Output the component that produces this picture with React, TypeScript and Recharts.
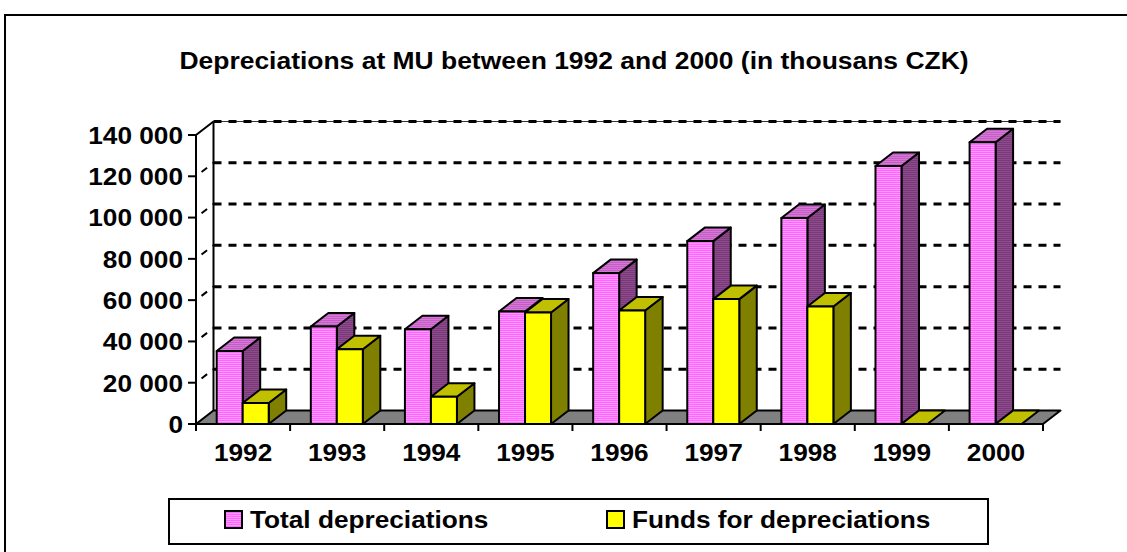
import React from 'react'
import { BarChart, Bar, XAxis, YAxis, CartesianGrid, Legend } from 'recharts'

const years = ['1992', '1993', '1994', '1995', '1996', '1997', '1998', '1999', '2000']
const totalDepreciations = [35400, 47200, 45900, 54500, 73100, 88600, 99800, 125000, 136500]
const fundsForDepreciations = [10200, 36200, 13200, 54000, 55000, 60500, 56900, 0, 0]
const yTicks = [0, 20000, 40000, 60000, 80000, 100000, 120000, 140000]
const seriesNames = ['Total depreciations', 'Funds for depreciations']

const data = years.map((year, i) => ({
  year,
  total: totalDepreciations[i],
  funds: fundsForDepreciations[i],
}))

// depth of the fake 3D view
const DX = 17.5
const DY = 13.5
const FONT = '"Liberation Sans", Arial, Helvetica, sans-serif'
const STRETCH = 1.07

const fmt = (v: number) => String(v).replace(/\B(?=(\d{3})+(?!\d))/g, ' ')

function Prism(props: any) {
  const { x, y, width, height, front, top, side } = props
  const r = x + width
  const b = y + height
  return (
    <g stroke="#000" strokeWidth={2} strokeLinejoin="round">
      {height > 0 && (
        <polygon points={`${r},${y} ${r + DX},${y - DY} ${r + DX},${b - DY} ${r},${b}`} fill={side} />
      )}
      <polygon points={`${x},${y} ${x + DX},${y - DY} ${r + DX},${y - DY} ${r},${y}`} fill={top} />
      {height > 0 && <rect x={x} y={y} width={width} height={height} fill={front} />}
    </g>
  )
}

function gridLine(props: any) {
  const { x1, x2, y1, index } = props
  const isBottom =
    props.y != null && props.height != null ? Math.abs(y1 - (props.y + props.height)) < 1 : index === 0
  const isTop = props.y != null ? Math.abs(y1 - props.y) < 1 : index === yTicks.length - 1
  if (isBottom) {
    return (
      <g key={`h-${index}`}>
        <polygon
          points={`${x1},${y1} ${x2},${y1} ${x2 + DX},${y1 - DY} ${x1 + DX},${y1 - DY}`}
          fill="#808080"
          stroke="#000"
          strokeWidth={2}
          strokeLinejoin="round"
        />
      </g>
    )
  }
  return (
    <g key={`h-${index}`}>
      {isTop && (
        <>
          <line x1={x1} y1={y1} x2={x1 + DX} y2={y1 - DY} stroke="#000" strokeWidth={2} />
          <line x1={x1 + DX} y1={y1 - DY} x2={x1 + DX} y2={props.y + props.height - DY} stroke="#000" strokeWidth={2} />
          <line x1={x1 + DX} y1={y1 - DY} x2={x2 + DX} y2={y1 - DY} stroke="#333" strokeWidth={1} />
        </>
      )}
      {!isTop && (
        <line
          x1={x1}
          y1={y1}
          x2={x1 + DX}
          y2={y1 - DY}
          stroke="#000"
          strokeWidth={2}
          strokeDasharray="7 7"
          strokeDashoffset={7}
        />
      )}
      <line
        x1={x1 + DX}
        y1={y1 - DY}
        x2={x2 + DX}
        y2={y1 - DY}
        stroke="#000"
        strokeWidth={3}
        strokeDasharray="8 7"
      />
    </g>
  )
}

function ValueTick(props: any) {
  const { x, y, payload } = props
  return (
    <text
      transform={`translate(${x},${y}) scale(${STRETCH},1)`}
      textAnchor="end"
      dy="0.36em"
      fontFamily={FONT}
      fontWeight="bold"
      fontSize={24.5}
      fill="#000"
    >
      {fmt(payload.value)}
    </text>
  )
}

function YearTick(props: any) {
  const { x, y, payload, index, visibleTicksCount } = props
  const count = visibleTicksCount || years.length
  const band = (props.width || 847) / count
  return (
    <g>
      <line x1={x - band / 2} y1={y - 7} x2={x - band / 2} y2={y} stroke="#000" strokeWidth={2} />
      {index === count - 1 && (
        <line x1={x + band / 2} y1={y - 7} x2={x + band / 2} y2={y} stroke="#000" strokeWidth={2} />
      )}
      <text
        transform={`translate(${x},${y + 29.5}) scale(${STRETCH},1)`}
        textAnchor="middle"
        fontFamily={FONT}
        fontWeight="bold"
        fontSize={24.5}
        fill="#000"
      >
        {payload.value}
      </text>
    </g>
  )
}

const swatchFills = ['url(#pinkFront)', '#FFFF00']
const swatchX = [57, 439]

function LegendBox(props: any) {
  const payload = props.payload || []
  // keep the series order, not the alphabetical one
  const items = seriesNames.map((name) => payload.find((e: any) => e.value === name)).filter(Boolean)
  return (
    <svg width={821} height={47} style={{ display: 'block' }}>
      <rect x={1} y={1} width={819} height={45} fill="#fff" stroke="#000" strokeWidth={2} />
      {items.map((entry: any, i: number) => (
        <g key={entry.value}>
          <rect x={swatchX[i]} y={13} width={17} height={17} fill={swatchFills[i]} stroke="#000" strokeWidth={2} />
          <text
            transform={`translate(${swatchX[i] + 25},30.3) scale(${STRETCH},1)`}
            fontFamily={FONT}
            fontWeight="bold"
            fontSize={24.5}
            fill="#000"
          >
            {entry.value}
          </text>
        </g>
      ))}
    </svg>
  )
}

export default function App() {
  return (
    <div style={{ position: 'absolute', left: 0, top: 0, width: 1127, height: 552, overflow: 'hidden', background: '#fff' }}>
      <svg width={1127} height={552} style={{ position: 'absolute', left: 0, top: 0 }}>
        <defs>
          <pattern id="pinkFront" width={4} height={2} patternUnits="userSpaceOnUse">
            <rect width={4} height={2} fill="#FF66FF" />
            <rect y={1} width={4} height={1} fill="#FF99FF" />
          </pattern>
          <pattern id="pinkSide" width={4} height={2} patternUnits="userSpaceOnUse">
            <rect width={4} height={2} fill="#7A3A7A" />
            <rect y={1} width={4} height={1} fill="#8C4C8C" />
          </pattern>
          <pattern id="pinkTop" width={4} height={2} patternUnits="userSpaceOnUse">
            <rect width={4} height={2} fill="#C65CC6" />
            <rect y={1} width={4} height={1} fill="#D47AD4" />
          </pattern>
        </defs>
        <path d="M5,552 L5,15 L1127,15" fill="none" stroke="#000" strokeWidth={2} />
        <text
          transform="translate(574,69) scale(1.08,1)"
          textAnchor="middle"
          fontFamily={FONT}
          fontWeight="bold"
          fontSize={24.5}
          fill="#000"
        >
          Depreciations at MU between 1992 and 2000 (in thousans CZK)
        </text>
      </svg>
      <div style={{ position: 'absolute', left: 0, top: 0 }}>
        <BarChart
          width={1127}
          height={552}
          data={data}
          margin={{ top: 135, right: 84, left: 0, bottom: 21 }}
          barCategoryGap="22%"
          barGap={0}
        >
          <CartesianGrid vertical={false} horizontal={gridLine} />
          <XAxis
            dataKey="year"
            height={60}
            axisLine={{ stroke: '#000', strokeWidth: 2 }}
            tickLine={false}
            tickSize={7}
            tickMargin={0}
            interval={0}
            tick={<YearTick />}
          />
          <YAxis
            width={196}
            domain={[0, 140000]}
            ticks={yTicks}
            interval={0}
            axisLine={{ stroke: '#000', strokeWidth: 2 }}
            tickLine={{ stroke: '#000', strokeWidth: 2 }}
            tickSize={8}
            tickMargin={5}
            tick={<ValueTick />}
          />
          <Legend
            verticalAlign="bottom"
            wrapperStyle={{ position: 'absolute', left: 168, top: 498, width: 821, height: 47 }}
            content={<LegendBox />}
          />
          <Bar
            dataKey="total"
            name={seriesNames[0]}
            fill="#FF66FF"
            isAnimationActive={false}
            shape={(p: any) => <Prism {...p} front="url(#pinkFront)" top="url(#pinkTop)" side="url(#pinkSide)" />}
          />
          <Bar
            dataKey="funds"
            name={seriesNames[1]}
            fill="#FFFF00"
            isAnimationActive={false}
            shape={(p: any) => <Prism {...p} front="#FFFF00" top="#C0C000" side="#808000" />}
          />
        </BarChart>
      </div>
    </div>
  )
}
